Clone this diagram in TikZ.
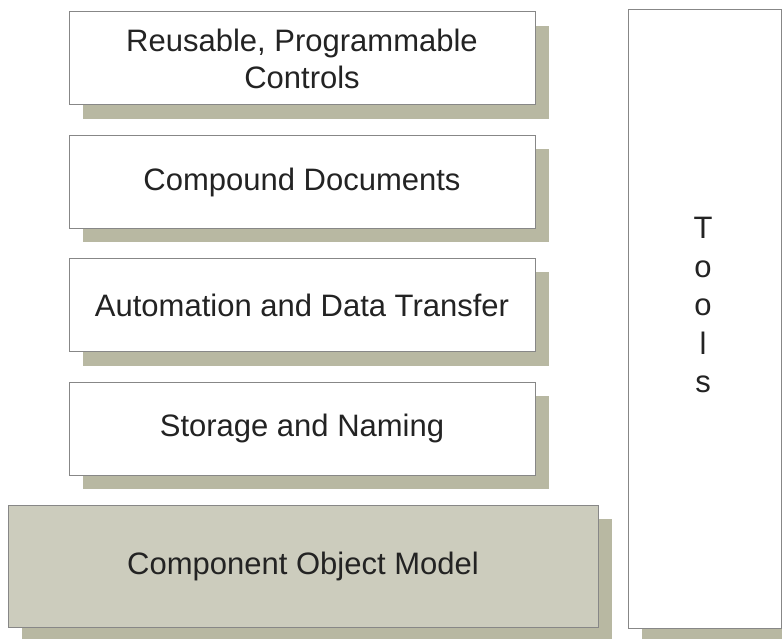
\documentclass[tikz,border=0pt]{standalone}
\usepackage{fontspec}
\setmainfont{Liberation Sans}
\usetikzlibrary{shadows}

\definecolor{edgegray}{RGB}{135,135,135}
\definecolor{shadowolive}{RGB}{184,184,162}
\definecolor{comfill}{RGB}{204,204,189}
\definecolor{textgray}{RGB}{35,35,35}

\begin{document}
\begin{tikzpicture}[
    x=1pt, y=-1pt,
    layer/.style={
        draw=edgegray,
        line width=1pt,
        fill=white,
        minimum width=466pt,
        minimum height=93pt,
        inner sep=0pt,
        align=center,
        text=textgray,
        font=\fontsize{31}{37}\selectfont,
        drop shadow={shadow xshift=14pt, shadow yshift=-14pt,
                     fill=shadowolive, opacity=1}
    },
    base/.style={layer, fill=comfill, minimum width=590pt, minimum height=122pt},
    side/.style={layer, minimum width=153pt, minimum height=618pt}
]
    \useasboundingbox (0,0) rectangle (782,639);

    % side column
    \node[side] (tools) at (704.5,319) {};
    \node[align=center, text=textgray, inner sep=0pt,
          font=\fontsize{31}{38.5}\selectfont] (toolstxt) at (703,305)
        {T\\o\\o\\l\\s};

    % stacked layers, top to bottom
    \node[layer] (controls) at (302,58.5) {Reusable, Programmable\\Controls};
    \node[layer] (compound) at (302,182) {Compound Documents};
    \node[layer] (automation) at (302,305) {Automation and Data Transfer};
    \node[layer] (storage) at (302,428.5) {Storage and Naming};
    \node[base] (com) at (303,566) {Component Object Model};
\end{tikzpicture}
\end{document}
